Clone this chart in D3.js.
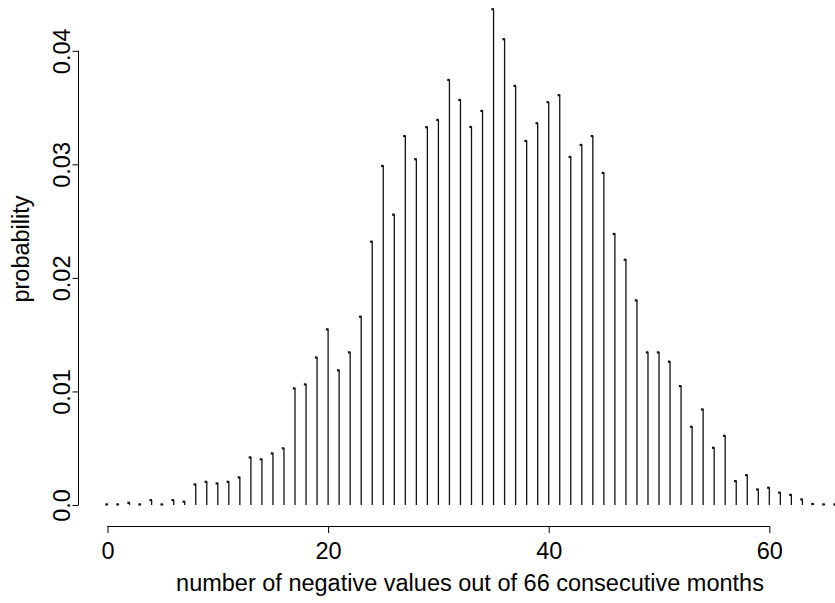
<!DOCTYPE html>
<html>
<head>
<meta charset="utf-8">
<script src="https://cdn.jsdelivr.net/npm/d3@7/dist/d3.min.js"></script>
<style>
  html, body { margin: 0; padding: 0; background: #fff; }
  svg { display: block; font-family: "Liberation Sans", Arial, sans-serif; }
</style>
</head>
<body>
<svg id="chart" width="835" height="603"></svg>
<script>
// Number of negative months out of 66 (0..66) and the probability of each count
const counts = d3.range(0, 67);
const probability = [
  0.00006, 0.00006, 0.0002, 0.00006, 0.00044, 0.00006, 0.00044, 0.0003,
  0.00182, 0.00205, 0.00191, 0.00205, 0.00244, 0.0042, 0.00403, 0.00455,
  0.0050, 0.01028, 0.01063, 0.0130, 0.01548, 0.01187, 0.01345, 0.01659,
  0.0232, 0.02987, 0.02558, 0.0325, 0.03046, 0.03328, 0.03392, 0.03744,
  0.03568, 0.0333, 0.03471, 0.04367, 0.04103, 0.03692, 0.03207, 0.03363,
  0.03548, 0.0361, 0.03066, 0.03172, 0.0325, 0.02925, 0.02388, 0.02161,
  0.01803, 0.01345, 0.01345, 0.01263, 0.01048, 0.0069, 0.00843, 0.00505,
  0.0061, 0.00211, 0.00264, 0.00138, 0.00153, 0.0011, 0.0009, 0.0005,
  0.0001, 0.00006, 0.00006
];
const xTicks = [0, 20, 40, 60];
const yTicks = [0, 0.01, 0.02, 0.03, 0.04];
const yTickLabels = ["0.0", "0.01", "0.02", "0.03", "0.04"];
const xTitle = "number of negative values out of 66 consecutive months";
const yTitle = "probability";

const svg = d3.select("#chart");
const fontSize = 23.5;

const x = d3.scaleLinear().domain([0, 66]).range([107.5, 835.5]);
const y = d3.scaleLinear().domain([0, 0.04]).range([505, 50.8]);

// Vertical sticks with a small knob at the top
const g = svg.append("g");
g.selectAll("line.stick")
  .data(counts)
  .join("line")
  .attr("class", "stick")
  .attr("x1", d => x(d)).attr("x2", d => x(d))
  .attr("y1", y(0)).attr("y2", (d, i) => y(probability[i]))
  .attr("stroke", "#111").attr("stroke-width", 1.3);
g.selectAll("rect.knob")
  .data(counts)
  .join("rect")
  .attr("class", "knob")
  .attr("x", d => x(d) - 2.2)
  .attr("y", (d, i) => y(probability[i]) - 1)
  .attr("width", 2.6).attr("height", 2.2)
  .attr("fill", "#111");

// Bottom axis
const xAxisY = 526;
const xAxis = svg.append("g")
  .attr("transform", `translate(0,${xAxisY})`)
  .call(d3.axisBottom(x).tickValues(xTicks).tickSize(7).tickSizeOuter(0).tickFormat(d3.format("d")));
xAxis.select(".domain").remove();
xAxis.append("line")
  .attr("x1", x(xTicks[0])).attr("x2", x(xTicks[xTicks.length - 1]))
  .attr("y1", 0.5).attr("y2", 0.5)
  .attr("stroke", "#000");
xAxis.selectAll(".tick line").attr("stroke", "#000");
xAxis.selectAll(".tick text")
  .attr("font-size", fontSize).attr("font-family", "Liberation Sans, Arial, sans-serif")
  .attr("fill", "#000").attr("dy", null).attr("y", 33);

// Left axis
const yAxisX = 78.5;
const yAxis = svg.append("g")
  .attr("transform", `translate(${yAxisX},0)`)
  .call(d3.axisLeft(y).tickValues(yTicks).tickSize(6).tickSizeOuter(0)
    .tickFormat((d, i) => yTickLabels[i]));
yAxis.select(".domain").remove();
yAxis.append("line")
  .attr("x1", 0).attr("x2", 0)
  .attr("y1", y(yTicks[0])).attr("y2", y(yTicks[yTicks.length - 1]))
  .attr("stroke", "#000");
yAxis.selectAll(".tick line").attr("stroke", "#000");
yAxis.selectAll(".tick text")
  .attr("font-size", fontSize).attr("font-family", "Liberation Sans, Arial, sans-serif")
  .attr("fill", "#000")
  .attr("x", null).attr("dy", null)
  .attr("text-anchor", "middle")
  .attr("transform", "translate(-9,0) rotate(-90)");

// Axis titles
svg.append("text")
  .attr("x", 470).attr("y", 591)
  .attr("text-anchor", "middle")
  .attr("font-size", fontSize)
  .text(xTitle);
svg.append("text")
  .attr("transform", "translate(29,249) rotate(-90)")
  .attr("text-anchor", "middle")
  .attr("font-size", fontSize)
  .text(yTitle);
</script>
</body>
</html>
